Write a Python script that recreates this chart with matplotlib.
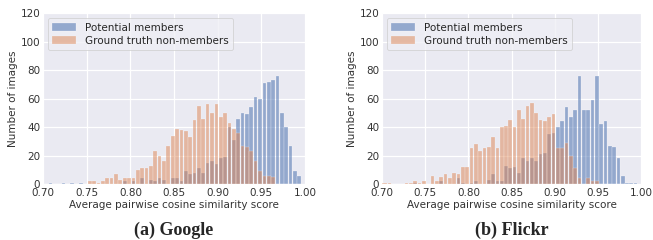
"""Histograms of average pairwise cosine similarity (Google / Flickr)."""

import numpy as np
import matplotlib
matplotlib.use("Agg")
import matplotlib.pyplot as plt

# Histogram bins: width 0.005, first bin just below 0.70
bin_edges = np.round(0.696 + 0.005 * np.arange(61), 4)
bin_centers = (bin_edges[:-1] + bin_edges[1:]) / 2

# Counts per bin
google_members = [0,
                  0, 1, 0, 0, 1, 0, 1, 0, 1, 0,
                  0, 0, 0, 0, 0, 0, 0, 0, 2, 0, 2,
                  0, 4, 0, 3, 2, 4, 3, 0, 4, 4, 2,
                  9, 7, 8, 11, 8, 15, 16, 14, 18, 19, 40, 31,
                  46, 50, 49, 54, 61, 60, 71, 72, 73, 76, 50, 40, 27, 9, 6]
google_non_members = [0,
                      0, 0, 0, 0, 0, 0, 0, 0, 0, 0,
                      2, 2, 1, 2, 4, 4, 7, 3, 4, 4, 4,
                      10, 11, 11, 13, 23, 20, 16, 27, 34, 39, 38, 37, 33,
                      45, 55, 46, 56, 50, 56, 47, 50, 43, 39, 36, 27, 26, 23,
                      16, 9, 6, 6, 5,
                      0, 0, 0, 0, 0, 0]
flickr_members = [0,
                  0, 0, 0, 0, 0, 0, 0, 1, 0, 0,
                  0, 0, 0, 2, 0, 0, 0, 4, 1, 0, 1,
                  2, 0, 0, 3, 7, 2, 2, 13, 11, 12, 8,
                  18, 16, 18, 16, 21, 22, 35, 36, 40, 44, 54, 47,
                  52, 76, 52, 52, 59, 76, 42, 44, 27, 26, 18, 6, 1, 1, 1]
flickr_non_members = [1,
                      1, 1, 0, 0, 0, 1, 1, 2, 1, 2,
                      0, 6, 2, 5, 7, 4, 8, 7, 12, 12, 25,
                      28, 23, 25, 26, 33, 25, 40, 41, 45, 40, 52, 46, 55,
                      57, 50, 45, 44, 47, 49, 25, 25, 29, 20, 11, 4, 0, 4,
                      2, 2, 0, 0, 0,
                      0, 0, 0, 0, 0, 0]

x_ticks = [0.70, 0.75, 0.80, 0.85, 0.90, 0.95, 1.00]
y_ticks = [0, 20, 40, 60, 80, 100, 120]
captions = ["(a) Google", "(b) Flickr"]

plt.style.use("seaborn-v0_8-darkgrid")
plt.rcParams["font.family"] = "DejaVu Sans"

fig = plt.figure(figsize=(6.53, 2.40), dpi=100)
ax_left = fig.add_axes([0.066, 0.233, 0.401, 0.712])
ax_right = fig.add_axes([0.585, 0.233, 0.397, 0.712])

panels = [(ax_left, google_members, google_non_members),
          (ax_right, flickr_members, flickr_non_members)]

for (ax, members, non_members), caption in zip(panels, captions):
    ax.hist(bin_centers, bins=bin_edges, weights=members, rwidth=0.85,
            color="#4C72B0", alpha=0.55, edgecolor="white", linewidth=0.3,
            label="Potential members")
    ax.hist(bin_centers, bins=bin_edges, weights=non_members, rwidth=0.85,
            color="#DD8452", alpha=0.5, edgecolor="white", linewidth=0.3,
            label="Ground truth non-members")
    ax.set_xlim(0.70, 1.00)
    ax.set_ylim(0, 120)
    ax.set_xticks(x_ticks)
    ax.set_xticklabels([f"{t:.2f}" for t in x_ticks])
    ax.set_yticks(y_ticks)
    ax.tick_params(axis="x", labelsize=7.5, colors="#333333", pad=3)
    ax.tick_params(axis="y", labelsize=7.5, colors="#333333", pad=2)
    ax.set_xlabel("Average pairwise cosine similarity score", fontsize=7.5,
                  color="#333333", labelpad=1)
    ax.set_ylabel("Number of images", fontsize=7.5, color="#333333",
                  labelpad=2)
    ax.grid(True, color="white", linewidth=0.9)
    leg = ax.legend(loc="upper left", fontsize=7.5, frameon=True,
                    borderpad=0.45, labelspacing=0.3, handlelength=2.3,
                    borderaxespad=0.45)
    leg.get_frame().set_facecolor("#EFEFF5")
    leg.get_frame().set_edgecolor("#CCCCCC")
    leg.get_frame().set_linewidth(0.6)
    ax.text(0.5, -0.27, caption, transform=ax.transAxes, ha="center",
            va="center", fontsize=13, fontweight="bold",
            family="Liberation Serif")

fig.savefig("out.png", dpi=100)
